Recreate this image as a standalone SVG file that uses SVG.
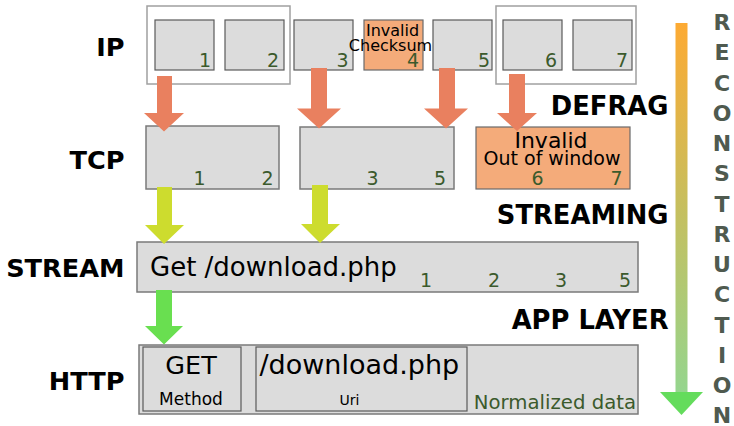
<svg xmlns="http://www.w3.org/2000/svg" width="734" height="426" viewBox="0 0 734 426">
  <defs>
    <linearGradient id="recGrad" x1="0" y1="23" x2="0" y2="392" gradientUnits="userSpaceOnUse">
      <stop offset="0" stop-color="#fdaa33"/>
      <stop offset="0.5" stop-color="#c6bf5e"/>
      <stop offset="1" stop-color="#95d58e"/>
    </linearGradient>
  </defs>
  <style>
    text { font-family: "DejaVu Sans", "Noto Sans", sans-serif; }
    .layer { font-weight: bold; font-size: 25.6px; fill: #000; text-anchor: end; }
    .step { font-weight: bold; font-size: 25.8px; fill: #000; text-anchor: end; }
    .group { fill: #fff; stroke: #a0a0a0; stroke-width: 1.5; }
    .pkt { fill: #dcdcdc; stroke: #5a5a5a; stroke-width: 1.2; }
    .bad { fill: #f4ab7a; stroke: #6a6a6a; stroke-width: 1.2; }
    .seg { fill: #dcdcdc; stroke: #7a7a7a; stroke-width: 1.5; }
    .num { font-size: 19px; fill: #3b5a2c; text-anchor: end; }
    .lbl { font-size: 16px; fill: #000; text-anchor: middle; }
    .big { font-size: 26px; fill: #000; }
    .ar-ip { fill: #e9805f; }
    .ar-tcp { fill: #cddc2e; }
    .ar-app { fill: #69df50; }
    .rec { font-weight: bold; font-size: 22px; fill: #4f5a4f; text-anchor: middle; }
  </style>

  <!-- layer names -->
  <g id="layer-labels">
    <text class="layer" x="124.5" y="56">IP</text>
    <text class="layer" x="124.5" y="169">TCP</text>
    <text class="layer" x="124.5" y="277">STREAM</text>
    <text class="layer" x="124.5" y="390">HTTP</text>
  </g>

  <!-- processing steps -->
  <g id="step-labels">
    <text class="step" x="668.5" y="115">DEFRAG</text>
    <text class="step" x="668.5" y="224">STREAMING</text>
    <text class="step" x="668.5" y="329">APP LAYER</text>
  </g>

  <!-- IP fragments grouped for reassembly -->
  <g id="ip-group-a"><rect class="group" x="147" y="6" width="143" height="78"/></g>
  <g id="ip-group-b"><rect class="group" x="496" y="6" width="140" height="78"/></g>

  <g id="ip-1"><rect class="pkt" x="155" y="20" width="59" height="50"/><text class="num" x="211" y="67">1</text></g>
  <g id="ip-2"><rect class="pkt" x="225" y="20" width="59" height="50"/><text class="num" x="279" y="67">2</text></g>
  <g id="ip-3"><rect class="pkt" x="294" y="20" width="59" height="50"/><text class="num" x="348.5" y="67">3</text></g>
  <g id="ip-4">
    <rect class="bad" x="364" y="20" width="59" height="50"/>
    <text class="lbl" x="392.5" y="36">Invalid</text>
    <text class="lbl" x="390.5" y="50.5">Checksum</text>
    <text class="num" x="419" y="67">4</text>
  </g>
  <g id="ip-5"><rect class="pkt" x="433" y="20" width="59" height="50"/><text class="num" x="490" y="67">5</text></g>
  <g id="ip-6"><rect class="pkt" x="503" y="20" width="59" height="50"/><text class="num" x="557" y="67">6</text></g>
  <g id="ip-7"><rect class="pkt" x="573" y="20" width="59" height="50"/><text class="num" x="628" y="67">7</text></g>

  <!-- TCP segments -->
  <g id="tcp-a">
    <rect class="seg" x="146" y="126" width="133" height="63"/>
    <text class="num" x="205.5" y="185">1</text>
    <text class="num" x="273.5" y="185">2</text>
  </g>
  <g id="tcp-b">
    <rect class="seg" x="300" y="127" width="154" height="62"/>
    <text class="num" x="378.5" y="185">3</text>
    <text class="num" x="446" y="185">5</text>
  </g>
  <g id="tcp-c">
    <rect class="bad" x="476" y="127" width="154" height="62"/>
    <text x="551" y="147.5" style="font-size:22px;fill:#000;text-anchor:middle">Invalid</text>
    <text x="552" y="165" style="font-size:19px;fill:#000;text-anchor:middle">Out of window</text>
    <text class="num" x="543.5" y="185">6</text>
    <text class="num" x="622.5" y="185">7</text>
  </g>

  <!-- reassembled stream -->
  <g id="stream">
    <rect class="seg" x="137" y="242" width="501" height="50"/>
    <text class="big" x="150" y="276">Get /download.php</text>
    <text class="num" x="432" y="287">1</text>
    <text class="num" x="500" y="287">2</text>
    <text class="num" x="567" y="287">3</text>
    <text class="num" x="631" y="287">5</text>
  </g>

  <!-- parsed HTTP request -->
  <g id="http">
    <rect class="seg" x="139" y="345" width="499" height="69"/>
    <text x="636" y="408.5" style="font-size:19.7px;fill:#3b5a2c;text-anchor:end">Normalized data</text>
  </g>
  <g id="http-method">
    <rect class="pkt" x="143" y="347" width="98" height="64"/>
    <text x="191" y="373.5" style="font-size:25.5px;fill:#000;text-anchor:middle">GET</text>
    <text x="191" y="405" style="font-size:17px;fill:#000;text-anchor:middle">Method</text>
  </g>
  <g id="http-uri">
    <rect class="pkt" x="256" y="347" width="211" height="64"/>
    <text x="259.5" y="373.5" style="font-size:27px;fill:#000">/download.php</text>
    <text x="349.5" y="405" style="font-size:14px;fill:#000;text-anchor:middle">Uri</text>
  </g>

  <!-- connectors between layers -->
  <g id="connectors">
    <polygon class="ar-ip" points="157,76 172,76 172,113 184,113 164,131.5 144,113 157,113"/>
    <polygon class="ar-ip" points="311,68 327,68 327,108.5 341,108.5 319,128.5 297,108.5 311,108.5"/>
    <polygon class="ar-ip" points="439,68 455,68 455,108.5 468,108.5 446,128.5 424,108.5 439,108.5"/>
    <polygon class="ar-ip" points="509,74 525,74 525,113 537,113 517,131 497,113 509,113"/>

    <polygon class="ar-tcp" points="157,187 172,187 172,225 184,225 164,244 145,225 157,225"/>
    <polygon class="ar-tcp" points="312,185 328,185 328,224 340,224 320,243 301,224 312,224"/>

    <polygon class="ar-app" points="156,290 172,290 172,326 183,326 164,344.5 145,326 156,326"/>
  </g>

  <!-- reconstruction direction -->
  <g id="reconstruction">
    <rect x="675.5" y="23" width="12" height="369" fill="url(#recGrad)"/>
    <polygon points="660,392 703,392 681.5,415" fill="#64dc5c"/>
    <text class="rec" x="722" y="30">R</text>
    <text class="rec" x="722" y="60.3">E</text>
    <text class="rec" x="722" y="90.5">C</text>
    <text class="rec" x="722" y="120.8">O</text>
    <text class="rec" x="722" y="151">N</text>
    <text class="rec" x="722" y="181.3">S</text>
    <text class="rec" x="722" y="211.5">T</text>
    <text class="rec" x="722" y="241.8">R</text>
    <text class="rec" x="722" y="272">U</text>
    <text class="rec" x="722" y="302.3">C</text>
    <text class="rec" x="722" y="332.5">T</text>
    <text class="rec" x="722" y="362.8">I</text>
    <text class="rec" x="722" y="393">O</text>
    <text class="rec" x="722" y="423">N</text>
  </g>
</svg>
